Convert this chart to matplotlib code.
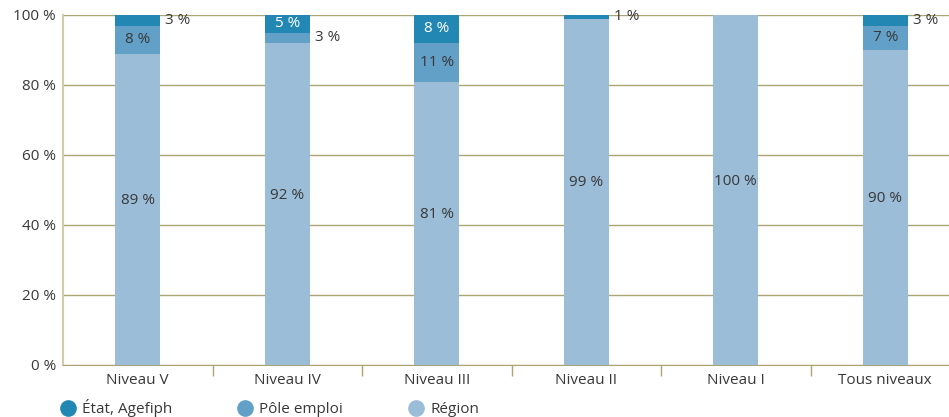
import numpy as np
import matplotlib.pyplot as plt
from matplotlib.lines import Line2D

plt.rcParams['font.family'] = ['Open Sans', 'DejaVu Sans']

# data
categories = ['Niveau V', 'Niveau IV', 'Niveau III', 'Niveau II', 'Niveau I', 'Tous niveaux']
region = [89, 92, 81, 99, 100, 90]
pole_emploi = [8, 3, 11, 0, 0, 7]
etat = [3, 5, 8, 1, 0, 3]
yticks = [0, 20, 40, 60, 80, 100]

c_region = '#9bbdd8'
c_pole = '#63a0c8'
c_etat = '#2387b3'
grid_c = '#aaa572'
txt_c = '#383838'

fig = plt.figure(figsize=(9.49, 4.17), dpi=100)
ax = fig.add_axes([63 / 949, 52 / 417, 897 / 949, 350 / 417])

x = np.arange(len(categories))
w = 0.30
bottom2 = np.array(region)
bottom3 = bottom2 + np.array(pole_emploi)
ax.bar(x, region, w, color=c_region, zorder=3)
ax.bar(x, pole_emploi, w, bottom=bottom2, color=c_pole, zorder=3)
ax.bar(x, etat, w, bottom=bottom3, color=c_etat, zorder=3)

# labels
fs = 11
for i in range(len(x)):
    ax.text(x[i], region[i] / 2 + 2.5, f'{region[i]} %', ha='center', va='center',
            fontsize=fs, color=txt_c, zorder=4)
    for val, base, col in [(pole_emploi[i], bottom2[i], txt_c), (etat[i], bottom3[i], 'white')]:
        if val == 0:
            continue
        mid = base + val / 2
        if val >= 5:
            ax.text(x[i], mid, f'{val} %', ha='center', va='center',
                    fontsize=fs, color=col, zorder=4)
        else:
            ax.text(x[i] + w / 2 + 0.035, mid, f'{val} %', ha='left', va='center',
                    fontsize=fs, color=txt_c, zorder=4, clip_on=False)

ax.set_xlim(-0.5, 5.5)
ax.set_ylim(0, 100)
ax.set_yticks(yticks)
ax.set_yticklabels([f'{v} %' for v in yticks])
ax.set_xticks(x)
ax.set_xticklabels(categories)
ax.set_xticks(x[:-1] + 0.5, minor=True)
ax.tick_params(axis='x', which='major', length=0, pad=6, labelsize=fs, labelcolor=txt_c)
ax.tick_params(axis='x', which='minor', length=8, color=grid_c, width=1)
ax.tick_params(axis='y', length=0, pad=5, labelsize=fs, labelcolor=txt_c)
ax.grid(axis='y', color=grid_c, linewidth=1, zorder=0)

for s in ['top', 'right']:
    ax.spines[s].set_visible(False)
ax.spines['left'].set_color('#d2cbae')
ax.spines['left'].set_linewidth(1.5)
ax.spines['bottom'].set_color(grid_c)

handles = [Line2D([], [], marker='o', linestyle='', markersize=11, color=c)
           for c in (c_etat, c_pole, c_region)]
fig.legend(handles, ['État, Agefiph', 'Pôle emploi', 'Région'], loc='center left',
           bbox_to_anchor=(0.0636, 9 / 417), ncol=3, frameon=False, fontsize=11,
           handlelength=1.0, handletextpad=0.41, columnspacing=4.3,
           borderpad=0, borderaxespad=0, labelcolor=txt_c)

plt.savefig('out.png', dpi=100)
